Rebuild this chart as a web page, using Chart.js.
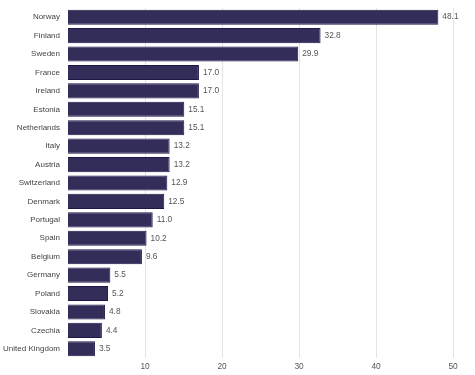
<!DOCTYPE html>
<html>
<head>
<meta charset="utf-8">
<script src="https://cdn.jsdelivr.net/npm/chart.js@4"></script>
<style>
  html, body { margin: 0; padding: 0; background: #fff; }
  #wrap { width: 475px; height: 375px; }
</style>
</head>
<body>
<div id="wrap"><canvas id="chart" width="475" height="375"></canvas></div>
<script>
const countries = ['Norway', 'Finland', 'Sweden', 'France', 'Ireland', 'Estonia', 'Netherlands',
  'Italy', 'Austria', 'Switzerland', 'Denmark', 'Portugal', 'Spain', 'Belgium', 'Germany',
  'Poland', 'Slovakia', 'Czechia', 'United Kingdom'];
const values = [48.1, 32.8, 29.9, 17.0, 17.0, 15.1, 15.1, 13.2, 13.2, 12.9, 12.5, 11.0, 10.2, 9.6,
  5.5, 5.2, 4.8, 4.4, 3.5];
const xTicks = [10, 20, 30, 40, 50];

const FONT = '"Liberation Sans", Arial, sans-serif';

// value labels to the right of each bar
const valueLabels = {
    id: 'valueLabels',
    afterDatasetsDraw(chart) {
        const ctx = chart.ctx;
        const meta = chart.getDatasetMeta(0);
        ctx.save();
        ctx.font = '8.3px ' + FONT;
        ctx.fillStyle = '#555';
        ctx.textAlign = 'left';
        ctx.textBaseline = 'middle';
        meta.data.forEach((bar, i) => {
            ctx.fillText(values[i].toFixed(1), bar.x + 4, bar.y);
        });
        ctx.restore();
    }
};

new Chart(document.getElementById('chart'), {
    type: 'bar',
    data: {
        labels: countries,
        datasets: [{
            data: values,
            backgroundColor: '#332d5a',
            borderColor: '#1c1745',
            borderWidth: 1,
            barPercentage: 1,
            categoryPercentage: 0.82
        }]
    },
    options: {
        indexAxis: 'y',
        responsive: false,
        animation: false,
        layout: { padding: { left: 0, right: 22, top: 8, bottom: 0 } },
        plugins: { legend: { display: false }, tooltip: { enabled: false } },
        scales: {
            x: {
                min: 0, max: 50,
                afterBuildTicks: (axis) => { axis.ticks = xTicks.map(v => ({ value: v })); },
                afterFit: (axis) => { axis.height = 17; },
                border: { display: false },
                grid: {
                    color: (c) => c.tick && c.tick.value === 0 ? 'transparent' : '#e4e4e4',
                    drawTicks: false
                },
                ticks: {
                    padding: 4,
                    color: '#555',
                    font: { size: 8.3, family: FONT }
                }
            },
            y: {
                afterFit: (axis) => {
                    axis.width = 68;
                    axis.paddingTop = 0;
                    axis.paddingBottom = 0;
                },
                border: { display: false },
                grid: { display: false, drawTicks: false },
                ticks: {
                    padding: 8,
                    color: '#444',
                    autoSkip: false,
                    font: { size: 8, family: FONT }
                }
            }
        }
    },
    plugins: [valueLabels]
});
</script>
</body>
</html>
